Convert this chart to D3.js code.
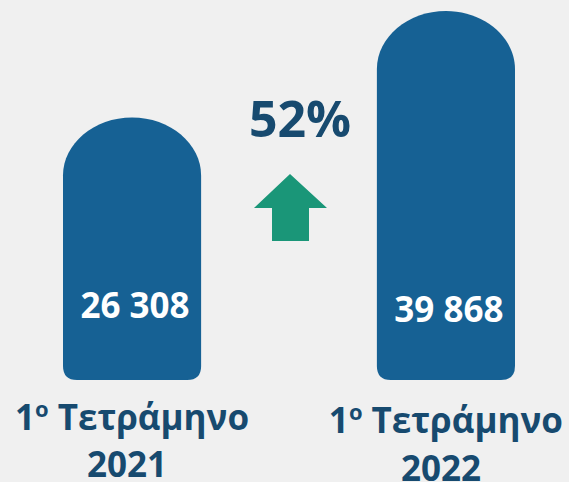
<!DOCTYPE html>
<html>
    <head>
        <style>
            body {
                margin: 0;
                background: #f0f0f0;
            }
            text {
                font-family: "Open Sans", "Noto Sans", sans-serif;
                font-weight: bold;
                text-anchor: middle;
            }
        </style>
        <script src="https://d3js.org/d3.v7.min.js"></script>
    </head>
    <body>
        <svg width="569" height="482"></svg>
        <script>
            // data
            var periods = ["1ο Τετράμηνο", "1ο Τετράμηνο"];
            var years = ["2021", "2022"];
            var values = [26308, 39868];
            var valueLabels = ["26 308", "39 868"];
            var changeLabel = "52%";

            var svg = d3.select("svg"),
                width = +svg.attr("width"),
                height = +svg.attr("height");

            var baseline = 380;

            svg.append("rect")
                .attr("width", width)
                .attr("height", height)
                .attr("fill", "#f0f0f0");

            var x = d3.scaleBand()
                .domain(years)
                .range([63, 515])
                .paddingInner(0.56);

            // the picture is not drawn to zero, bars start from a stub
            var y = d3.scaleLinear()
                .domain([0, d3.max(values)])
                .range([324, 11]);

            function barPath(x0, top, w, bottom) {
                var rx = w / 2, ry = w * 0.42, r = 14;
                var p = d3.path();
                p.moveTo(x0, top + ry);
                p.bezierCurveTo(x0, top + ry * 0.45, x0 + rx * 0.45, top, x0 + rx, top);
                p.bezierCurveTo(x0 + w - rx * 0.45, top, x0 + w, top + ry * 0.45, x0 + w, top + ry);
                p.lineTo(x0 + w, bottom - r);
                p.quadraticCurveTo(x0 + w, bottom, x0 + w - r, bottom);
                p.lineTo(x0 + r, bottom);
                p.quadraticCurveTo(x0, bottom, x0, bottom - r);
                p.closePath();
                return p.toString();
            }

            var g = svg.selectAll(".bar")
                .data(values)
                .enter()
                .append("g")
                .attr("class", "bar");

            g.append("path")
                .attr("fill", "#166194")
                .attr("d", function (d, i) {
                    return barPath(x(years[i]), y(d), x.bandwidth(), baseline);
                });

            g.append("text")
                .attr("x", function (d, i) { return x(years[i]) + x.bandwidth() / 2 + 3; })
                .attr("y", function (d, i) { return baseline - 62 + i * 4; })
                .attr("fill", "#ffffff")
                .style("font-size", "35px")
                .text(function (d, i) { return valueLabels[i]; });

            // category labels under the bars
            var lab = g.append("text")
                .attr("fill", "#174a6f")
                .style("font-size", "35px")
                .attr("x", function (d, i) { return x(years[i]) + x.bandwidth() / 2; })
                .attr("y", function (d, i) { return 430 + i * 3; });
            lab.append("tspan").text("1");
            lab.append("tspan")
                .attr("dy", -13)
                .style("font-size", "22px")
                .text("ο");
            lab.append("tspan")
                .attr("dy", 13)
                .text(function (d, i) { return " " + periods[i].slice(3); });

            g.append("text")
                .attr("fill", "#174a6f")
                .style("font-size", "35px")
                .attr("x", function (d, i) { return x(years[i]) + x.bandwidth() / 2 - 5; })
                .attr("y", function (d, i) { return 477 + i * 4; })
                .text(function (d, i) { return years[i]; });

            // growth annotation
            svg.append("text")
                .attr("x", 300)
                .attr("y", 137)
                .attr("fill", "#174a6f")
                .style("font-size", "50px")
                .text(changeLabel);

            var a = d3.path();
            a.moveTo(290, 174);
            a.lineTo(327, 208);
            a.lineTo(309, 208);
            a.lineTo(309, 241);
            a.lineTo(272, 241);
            a.lineTo(272, 208);
            a.lineTo(254, 208);
            a.closePath();
            svg.append("path")
                .attr("d", a.toString())
                .attr("fill", "#1a9678");
        </script>
    </body>
</html>
